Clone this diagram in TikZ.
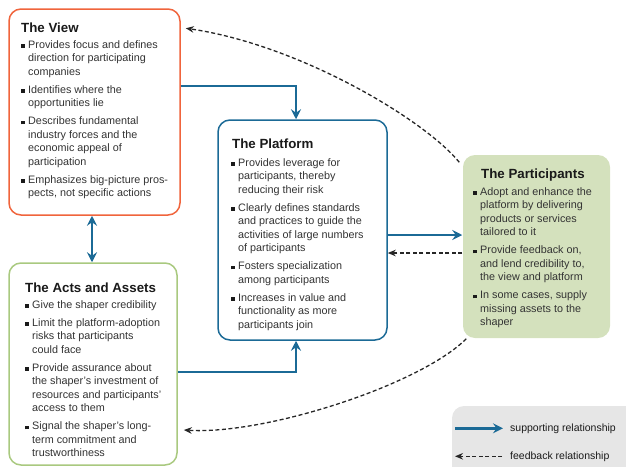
\documentclass[tikz,border=0pt]{standalone}
\usepackage{fontspec}
\setmainfont{Liberation Sans}
\usetikzlibrary{arrows.meta,calc}
\definecolor{sblue}{HTML}{1B6A96}
\definecolor{vorange}{HTML}{F0643C}
\definecolor{agreen}{HTML}{A9C97F}
\definecolor{pfill}{HTML}{D4E1BD}
\definecolor{lfill}{HTML}{E6E6E6}
\definecolor{bodycol}{HTML}{333333}
\definecolor{titlecol}{HTML}{1A1A1A}
\newcommand\bsq{\llap{\textcolor{titlecol}{\rule[0.4pt]{3.4pt}{3.4pt}}\hspace{3.6pt}}}
\newcommand\fl{\rule{0pt}{10pt}}
\tikzset{
  box/.style={line width=1.5pt, rounded corners=12pt, inner sep=0pt},
  viewbox/.style={box, draw=vorange, fill=white},
  actsbox/.style={box, draw=agreen, fill=white},
  platbox/.style={box, draw=sblue, fill=white},
  partbox/.style={box, draw=none, fill=pfill},
  legbox/.style={box, draw=none, fill=lfill},
  ttl/.style={anchor=base west, inner sep=0pt, font=\fontsize{13.3}{16}\selectfont\bfseries, text=titlecol},
  body/.style={anchor=north west, inner sep=0pt, align=left, font=\fontsize{10.8}{13.5}\selectfont, text=bodycol},
  legtxt/.style={anchor=base west, inner sep=0pt, font=\fontsize{10.5}{12}\selectfont, text=titlecol},
  bhead/.style={Stealth[length=10pt,width=10pt,inset=3.5pt]},
  sup/.style={draw=sblue, line width=2.5pt, -{Stealth[length=10pt,width=10pt,inset=3.5pt]}},
  supboth/.style={draw=sblue, line width=2.5pt, {Stealth[length=10pt,width=10pt,inset=3.5pt]}-{Stealth[length=10pt,width=10pt,inset=3.5pt]}},
  fb/.style={draw=black!85, line width=1.3pt, dash pattern=on 4pt off 2.5pt, -{Stealth[length=8pt,width=6.5pt]}},
}
\begin{document}
\begin{tikzpicture}[x=1pt,y=-1pt]
\useasboundingbox (0,0) rectangle (626,466);
% boxes
\node[viewbox, minimum width=171pt, minimum height=206pt] (view) at (94.5,112) {};
\node[actsbox, minimum width=168pt, minimum height=202pt] (acts) at (93,364) {};
\node[platbox, minimum width=169pt, minimum height=220pt] (platform) at (302.5,230) {};
\node[partbox, minimum width=147pt, minimum height=183pt] (parts) at (536.5,246.5) {};
\node[legbox, minimum width=194pt, minimum height=80pt] (legend) at (549,446) {};
% titles
\node[ttl] (viewt) at (21,32) {The View};
\node[ttl] (actst) at (25,292) {The Acts and Assets};
\node[ttl] (platt) at (232,148) {The Platform};
\node[ttl] (partt) at (481,178) {The Participants};
% bodies
\node[body] (viewb) at (28,38) {\fl\bsq Provides focus and defines\\ direction for participating\\ companies\\[4.5pt]
\bsq Identifies where the\\ opportunities lie\\[4.5pt]
\bsq Describes fundamental\\ industry forces and the\\ economic appeal of\\ participation\\[4.5pt]
\bsq Emphasizes big-picture pros-\\ pects, not specific actions};
\node[body] (actsb) at (32,298) {\fl\bsq Give the shaper credibility\\[4.5pt]
\bsq Limit the platform-adoption\\ risks that participants\\ could face\\[4.5pt]
\bsq Provide assurance about\\ the shaper’s investment of\\ resources and participants’\\ access to them\\[4.5pt]
\bsq Signal the shaper’s long-\\ term commitment and\\ trustworthiness};
\node[body] (platb) at (238,156) {\fl\bsq Provides leverage for\\ participants, thereby\\ reducing their risk\\[4.5pt]
\bsq Clearly defines standards\\ and practices to guide the\\ activities of large numbers\\ of participants\\[4.5pt]
\bsq Fosters specialization\\ among participants\\[4.5pt]
\bsq Increases in value and\\ functionality as more\\ participants join};
\node[body] (partb) at (480,185) {\fl\bsq Adopt and enhance the\\ platform by delivering\\ products or services\\ tailored to it\\[4.5pt]
\bsq Provide feedback on,\\ and lend credibility to,\\ the view and platform\\[4.5pt]
\bsq In some cases, supply\\ missing assets to the\\ shaper};
% connectors
\coordinate (j1) at (296,86);
\coordinate (j2) at (296,372);
\coordinate (j3) at (92,0);
\coordinate (j4) at (0,235);
\coordinate (j5) at (0,253);
\draw[sup] (j1 -| view.east) -- (j1) -- (j1 |- platform.north);
\draw[sup] (j2 -| acts.east) -- (j2) -- (j2 |- platform.south);
\draw[supboth] (j3 |- view.south) -- (j3 |- acts.north);
\draw[sup] (j4 -| platform.east) -- (j4 -| parts.west);
\draw[fb] (j5 -| parts.west) -- (j5 -| platform.east);
\draw[fb] ($(parts.north west)+(-3,8)$) .. controls (425,120) and (300,45) .. ($(view.north east)+(5,20)$);
\draw[fb] ($(parts.south west)+(4,0)$) .. controls (420,385) and (265,435) .. ($(acts.east)+(6,66)$);
% legend
\node[legtxt] (lt1) at (510,431) {supporting relationship};
\node[legtxt] (lt2) at (510,459) {feedback relationship};
\draw[sup] ([xshift=-55pt]lt1.west) -- ([xshift=-7pt]lt1.west);
\draw[fb] ([xshift=-8pt]lt2.west) -- ([xshift=-55pt]lt2.west);
\end{tikzpicture}
\end{document}
